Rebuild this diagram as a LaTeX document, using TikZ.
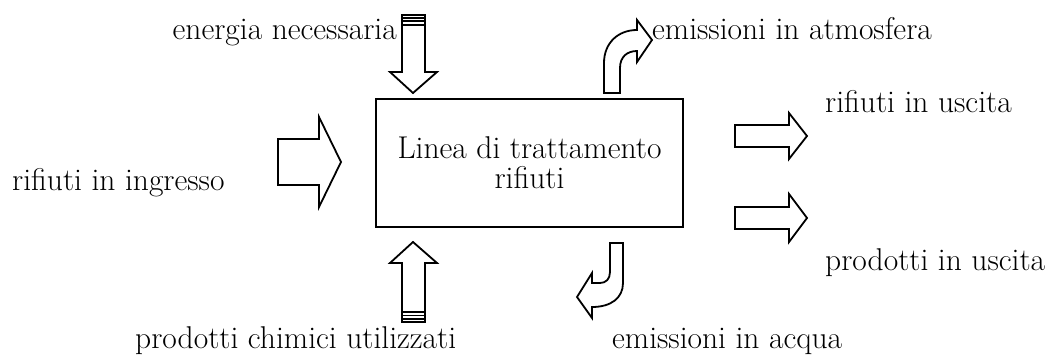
\documentclass[tikz,border=0pt]{standalone}
\begin{document}
\begin{tikzpicture}[x=1pt,y=-1pt,
  shape arrow/.style={draw=black,line width=1.8pt,line join=miter,fill=white},
  lbl/.style={inner sep=0pt,font=\fontsize{31.5}{37}\selectfont},
  boxst/.style={draw=black,line width=1.8pt,fill=white}]
\useasboundingbox (0,0) rectangle (1050,356);
% main box
\node[boxst,minimum width=307pt,minimum height=128pt,inner sep=0pt] (box) at (529.5,163) {};
\node[lbl,anchor=base] (t1) at (529.5,158) {Linea di trattamento};
\node[lbl,anchor=base] (t2) at (529.5,188) {rifiuti};
% left input arrow
\draw[shape arrow] (278,139) -- (319,139) -- (319,117) -- (341,162) -- (319,207) -- (319,185) -- (278,185) -- cycle;
% right output arrows
\draw[shape arrow] (735,125) -- (789,125) -- (789,113) -- (807,136) -- (789,159) -- (789,147) -- (735,147) -- cycle;
\draw[shape arrow] (735,207) -- (789,207) -- (789,194) -- (807,218) -- (789,242) -- (789,229) -- (735,229) -- cycle;
% top energy arrow
\draw[shape arrow] (402,15) -- (425,15) -- (425,72) -- (437,72) -- (413,93) -- (390,72) -- (402,72) -- cycle;
\draw[line width=1.4pt] (402,18) -- (425,18);
\draw[line width=1.4pt] (402,21) -- (425,21);
\draw[line width=1.4pt] (402,25) -- (425,25);
% bottom chemicals arrow
\draw[shape arrow] (402,322) -- (425,322) -- (425,263) -- (437,263) -- (413,242) -- (390,263) -- (402,263) -- cycle;
\draw[line width=1.4pt] (402,319) -- (425,319);
\draw[line width=1.4pt] (402,315.5) -- (425,315.5);
\draw[line width=1.4pt] (402,312) -- (425,312);
% curved arrow up (atmosphere)
\draw[shape arrow] (604,93) -- (604,63) .. controls (604,43) and (618,30) .. (637,30) -- (637,20) -- (652,40) -- (637,62) -- (637,51) .. controls (627,51) and (620,57) .. (620,68) -- (620,93) -- cycle;
% curved arrow down (water)
\draw[shape arrow] (610,243) -- (623,243) -- (623,283) .. controls (623,298) and (611,307) .. (592,307) -- (592,318) -- (577,297) -- (592,273) -- (592,283) -- (600,283) .. controls (606,283) and (610,279) .. (610,272) -- cycle;
% labels
\node[lbl,anchor=base east] (l1) at (397,39) {energia necessaria};
\node[lbl,anchor=base west] (l2) at (652,39) {emissioni in atmosfera};
\node[lbl,anchor=base west] (l3) at (12,190) {rifiuti in ingresso};
\node[lbl,anchor=base west] (l4) at (825,112) {rifiuti in uscita};
\node[lbl,anchor=base west] (l5) at (825,270) {prodotti in uscita};
\node[lbl,anchor=base west] (l6) at (135,348) {prodotti chimici utilizzati};
\node[lbl,anchor=base west] (l7) at (612,348) {emissioni in acqua};
\end{tikzpicture}
\end{document}
